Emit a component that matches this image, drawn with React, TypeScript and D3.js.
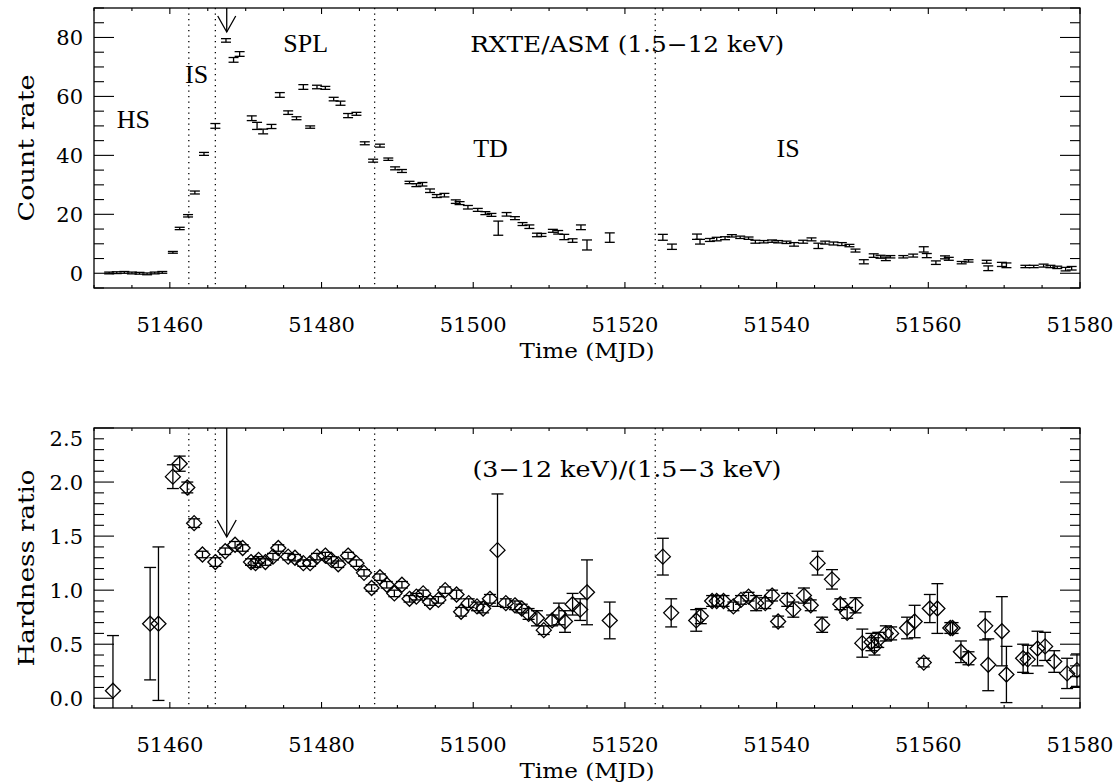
import React from 'react';
import * as d3 from 'd3';

// ---------- Data ----------
// RXTE/ASM count rate (1.5-12 keV)
const crTime = [
  51452.0, 51453.0, 51454.0, 51455.0, 51456.0, 51457.0, 51458.0, 51459.0,
  51460.4, 51461.3, 51462.4, 51463.3, 51464.5, 51466.0, 51467.4, 51468.4,
  51469.2, 51470.8, 51471.5, 51472.3, 51473.4, 51474.5, 51475.6, 51476.7,
  51477.6, 51478.5, 51479.4, 51480.5, 51481.6, 51482.5, 51483.5, 51484.6,
  51485.7, 51486.8, 51487.7, 51488.8, 51489.7, 51490.6, 51491.6, 51492.5,
  51493.3, 51494.3, 51495.2, 51496.2, 51497.7, 51498.2, 51499.3, 51500.6,
  51501.6, 51502.4, 51503.3, 51504.4, 51505.5, 51506.5, 51507.4, 51508.4,
  51509.0, 51510.5, 51511.2, 51512.0, 51513.1, 51514.2, 51515.0, 51518.0,
  51525.0, 51526.2, 51529.5, 51529.9, 51531.2, 51532.1, 51533.2, 51534.1,
  51535.2, 51536.3, 51537.2, 51538.3, 51539.4, 51540.2, 51541.3, 51542.3,
  51543.5, 51544.6, 51545.5, 51546.4, 51547.5, 51548.6, 51549.6, 51550.4,
  51551.5, 51552.8, 51553.7, 51554.4, 51555.0, 51556.7, 51558.0, 51559.4,
  51559.8, 51561.0, 51562.2, 51562.7, 51564.4, 51565.3, 51567.7, 51567.9,
  51569.7, 51570.3, 51572.8, 51573.9, 51575.2, 51576.1, 51577.0, 51578.1,
  51578.9,
];
const crRate = [
  0.1, 0.2, 0.3, 0.1, 0.0, -0.2, 0.1, 0.3,
  7.1, 15.2, 19.5, 27.4, 40.5, 50.0, 79.0, 72.4,
  74.4, 52.6, 50.0, 48.1, 49.8, 60.5, 54.5, 52.6,
  63.2, 49.6, 63.2, 62.9, 59.1, 57.7, 53.5, 54.1,
  44.1, 38.2, 43.3, 38.7, 35.6, 34.7, 30.8, 29.9,
  30.2, 28.0, 26.2, 26.5, 24.3, 23.8, 22.4, 21.5,
  20.4, 19.8, 15.3, 20.0, 18.7, 16.7, 15.8, 13.0,
  13.0, 14.4, 13.9, 12.3, 11.1, 15.6, 9.6, 12.1,
  12.2, 9.0, 12.4, 10.7, 11.3, 11.6, 11.9, 12.7,
  12.2, 11.9, 10.7, 10.7, 10.9, 10.7, 10.5, 9.8,
  10.7, 11.5, 9.3, 10.4, 10.1, 9.9, 9.4, 7.7,
  3.9, 6.0, 5.6, 4.9, 5.6, 5.6, 6.0, 8.1,
  6.0, 3.6, 5.4, 4.9, 3.6, 4.2, 3.9, 1.7,
  3.0, 2.7, 2.3, 2.3, 2.6, 2.3, 2.0, 1.4,
  1.7,
];
const crErr = [
  0.3, 0.3, 0.3, 0.3, 0.3, 0.3, 0.3, 0.3,
  0.3, 0.4, 0.4, 0.5, 0.5, 0.8, 0.6, 0.8,
  0.8, 0.8, 1.2, 0.8, 0.7, 0.8, 0.6, 0.5,
  0.8, 0.4, 0.6, 0.5, 0.6, 0.7, 0.7, 0.5,
  0.5, 0.5, 0.5, 0.4, 0.5, 0.5, 0.4, 0.5,
  0.6, 0.6, 0.5, 0.6, 0.6, 0.5, 0.6, 0.5,
  0.5, 0.5, 2.4, 0.6, 0.5, 0.5, 0.6, 0.6,
  0.5, 0.5, 0.6, 0.9, 0.6, 0.8, 1.7, 1.6,
  1.0, 0.9, 0.9, 0.8, 0.5, 0.6, 0.5, 0.4,
  0.4, 0.4, 0.5, 0.4, 0.4, 0.4, 0.4, 0.6,
  0.5, 0.5, 0.9, 0.5, 0.5, 0.5, 0.4, 0.5,
  0.7, 0.6, 0.5, 0.6, 0.4, 0.4, 0.5, 0.9,
  0.7, 0.6, 0.5, 0.5, 0.4, 0.4, 0.5, 0.8,
  0.7, 0.8, 0.4, 0.4, 0.5, 0.4, 0.4, 0.6,
  0.6,
];

// Hardness ratio (3-12 keV)/(1.5-3 keV)
const hrTime = [
  51452.5, 51457.4, 51458.5, 51460.4, 51461.3, 51462.3, 51463.2, 51464.3,
  51466.0, 51467.3, 51468.6, 51469.6, 51470.7, 51471.3, 51471.7, 51472.6,
  51473.6, 51474.3, 51475.6, 51476.5, 51477.6, 51478.5, 51479.4, 51480.5,
  51481.3, 51482.2, 51483.5, 51484.6, 51485.6, 51486.6, 51487.7, 51488.6,
  51489.6, 51490.6, 51491.6, 51492.5, 51493.4, 51494.3, 51495.4, 51496.3,
  51497.8, 51498.4, 51499.4, 51500.5, 51501.3, 51502.2, 51503.2, 51504.3,
  51505.5, 51506.4, 51507.3, 51508.4, 51509.3, 51510.4, 51511.3, 51512.1,
  51513.1, 51514.1, 51515.0, 51518.0, 51525.0, 51526.1, 51529.4, 51530.0,
  51531.5, 51532.1, 51533.0, 51534.3, 51535.3, 51536.3, 51537.3, 51538.5,
  51539.4, 51540.2, 51541.4, 51542.2, 51543.6, 51544.5, 51545.4, 51546.0,
  51547.3, 51548.4, 51549.3, 51550.4, 51551.3, 51552.5, 51552.9, 51553.4,
  51554.4, 51555.1, 51557.2, 51558.2, 51559.4, 51560.2, 51561.2, 51562.9,
  51563.2, 51564.3, 51565.3, 51567.5, 51567.9, 51569.7, 51570.3, 51572.5,
  51573.1, 51574.4, 51575.4, 51576.6, 51578.3, 51579.6,
];
const hrRatio = [
  0.07, 0.69, 0.69, 2.05, 2.17, 1.95, 1.62, 1.33,
  1.26, 1.36, 1.42, 1.39, 1.26, 1.25, 1.28, 1.26,
  1.31, 1.39, 1.31, 1.30, 1.25, 1.25, 1.31, 1.32,
  1.28, 1.24, 1.32, 1.25, 1.16, 1.02, 1.12, 1.05,
  0.97, 1.05, 0.92, 0.94, 0.97, 0.89, 0.91, 1.00,
  0.96, 0.80, 0.88, 0.85, 0.83, 0.92, 1.37, 0.88,
  0.86, 0.83, 0.78, 0.74, 0.63, 0.72, 0.78, 0.71,
  0.87, 0.82, 0.98, 0.72, 1.31, 0.79, 0.72, 0.76,
  0.90, 0.90, 0.90, 0.85, 0.91, 0.94, 0.88, 0.88,
  0.95, 0.71, 0.91, 0.82, 0.95, 0.86, 1.25, 0.68,
  1.10, 0.87, 0.79, 0.86, 0.51, 0.52, 0.48, 0.54,
  0.60, 0.60, 0.65, 0.71, 0.33, 0.83, 0.83, 0.65,
  0.65, 0.43, 0.37, 0.67, 0.31, 0.62, 0.22, 0.37,
  0.36, 0.46, 0.48, 0.34, 0.23, 0.26,
];
const hrErr = [
  0.51, 0.52, 0.71, 0.11, 0.07, 0.05, 0.04, 0.03,
  0.04, 0.03, 0.03, 0.03, 0.03, 0.04, 0.03, 0.03,
  0.03, 0.03, 0.03, 0.03, 0.03, 0.03, 0.03, 0.03,
  0.03, 0.03, 0.03, 0.03, 0.03, 0.03, 0.03, 0.03,
  0.03, 0.03, 0.03, 0.03, 0.03, 0.03, 0.03, 0.03,
  0.04, 0.04, 0.04, 0.04, 0.04, 0.04, 0.52, 0.04,
  0.04, 0.04, 0.05, 0.07, 0.04, 0.05, 0.10, 0.10,
  0.10, 0.10, 0.30, 0.17, 0.17, 0.13, 0.10, 0.07,
  0.05, 0.05, 0.05, 0.04, 0.04, 0.04, 0.07, 0.05,
  0.05, 0.05, 0.06, 0.07, 0.07, 0.05, 0.11, 0.07,
  0.09, 0.05, 0.05, 0.07, 0.13, 0.08, 0.08, 0.07,
  0.07, 0.06, 0.10, 0.15, 0.04, 0.13, 0.23, 0.05,
  0.05, 0.10, 0.06, 0.13, 0.24, 0.32, 0.26, 0.13,
  0.13, 0.16, 0.13, 0.10, 0.14, 0.15,
];

const stateBoundaries = [51462.5, 51466.0, 51487.0, 51524.0];
const arrowTime = 51467.5;
const xTicks = [51460, 51480, 51500, 51520, 51540, 51560, 51580];
const crTicks = [0, 20, 40, 60, 80];
const hrTicks = [0, 0.5, 1.0, 1.5, 2.0, 2.5];
const topLabels = ['HS', 'IS', 'SPL', 'TD', 'IS'];
const topTitle = 'RXTE/ASM (1.5\u221212 keV)';
const bottomTitle = '(3\u221212 keV)/(1.5\u22123 keV)';

// ---------- Layout ----------
const W = 1120;
const H = 782;
const L = 94;
const R = 1080;
const top1 = 8, bot1 = 288;
const top2 = 428, bot2 = 708;
const labelFont = '"DejaVu Serif", serif';
const annFont = '"Liberation Serif", "Times New Roman", serif';

const x = d3.scaleLinear().domain([51450, 51580]).range([L, R]);
const y1 = d3.scaleLinear().domain([-5, 90]).range([bot1, top1]);
const y2 = d3.scaleLinear().domain([-0.09, 2.5]).range([bot2, top2]);

const xMinor = d3.range(51450, 51581, 5);
const crMinor = d3.range(-5, 91, 5);
const hrMinor = d3.range(0, 2.51, 0.1);

function Frame({ y, top, bot, yTicks, yMinor, fmt }: any) {
  const stroke = '#000';
  return (
    <g>
      <rect x={L} y={top} width={R - L} height={bot - top} fill="none" stroke={stroke} strokeWidth={1.3} />
      {xMinor.map((t: number) => {
        const major = xTicks.includes(t);
        const len = major ? 6 : 3;
        return (
          <g key={'xt' + t}>
            <line x1={x(t)} x2={x(t)} y1={bot} y2={bot - len} stroke={stroke} strokeWidth={1.1} />
            <line x1={x(t)} x2={x(t)} y1={top} y2={top + len} stroke={stroke} strokeWidth={1.1} />
          </g>
        );
      })}
      {yMinor.map((v: number, i: number) => {
        const major = yTicks.some((m: number) => Math.abs(m - v) < 1e-6);
        const len = major ? 20 : 10;
        const py = y(v);
        if (py < top - 0.5 || py > bot + 0.5) return null;
        return (
          <g key={'yt' + i}>
            <line x1={L} x2={L + len} y1={py} y2={py} stroke={stroke} strokeWidth={1.1} />
            <line x1={R} x2={R - len} y1={py} y2={py} stroke={stroke} strokeWidth={1.1} />
          </g>
        );
      })}
      {yTicks.map((v: number) => (
        <text key={'yl' + v} x={83} y={Math.max(y(v), top + 10)} dy="0.36em" textAnchor="end"
          fontFamily={labelFont} fontSize={21} fill="#000">{fmt(v)}</text>
      ))}
      {xTicks.map((t: number) => (
        <text key={'xl' + t} x={x(t)} y={bot + 44} textAnchor="middle"
          fontFamily={labelFont} fontSize={21} fill="#000">{t}</text>
      ))}
      <text x={(L + R) / 2} y={bot + 70} textAnchor="middle" fontFamily={labelFont} fontSize={21}
        textLength={135} lengthAdjust="spacingAndGlyphs" fill="#000">Time (MJD)</text>
      {stateBoundaries.map((t: number) => (
        <line key={'sb' + t} x1={x(t)} x2={x(t)} y1={top} y2={bot} stroke="#000" strokeWidth={1.3} strokeDasharray="1.3 4.2" />
      ))}
    </g>
  );
}

export default function App() {
  const capTop = 5;
  const capBot = 6;
  const dm = 7.5;
  return (
    <svg width={W} height={H} viewBox={`0 0 ${W} ${H}`}
      style={{ position: 'absolute', left: 0, top: 0, background: '#fff' }}>
      <defs>
        <clipPath id="c1"><rect x={L} y={top1} width={R - L} height={bot1 - top1} /></clipPath>
        <clipPath id="c2"><rect x={L} y={top2} width={R - L} height={bot2 - top2} /></clipPath>
      </defs>
      <rect x={0} y={0} width={W} height={H} fill="#fff" />

      {/* Top panel */}
      <Frame y={y1} top={top1} bot={bot1} yTicks={crTicks} yMinor={crMinor} fmt={(v: number) => String(v)} />
      <g clipPath="url(#c1)" stroke="#000" strokeWidth={1.3} fill="none">
        {crTime.map((t, i) => {
          const px = x(t);
          const ya = y1(crRate[i] + crErr[i]);
          const yb = y1(crRate[i] - crErr[i]);
          return (
            <g key={'cr' + i}>
              <line x1={px} x2={px} y1={ya} y2={yb} />
              <line x1={px - capTop} x2={px + capTop} y1={ya} y2={ya} />
              <line x1={px - capTop} x2={px + capTop} y1={yb} y2={yb} />
            </g>
          );
        })}
      </g>
      <g stroke="#000" strokeWidth={1.3} fill="none">
        <line x1={x(arrowTime)} x2={x(arrowTime)} y1={top1} y2={top1 + 24} />
        <polyline points={`${x(arrowTime) - 9},${top1 + 8} ${x(arrowTime)},${top1 + 24} ${x(arrowTime) + 9},${top1 + 8}`} />
      </g>
      <g fontFamily={annFont} fontSize={26} fill="#000">
        <text x={x(51453.0)} y={y1(49.4)}>{topLabels[0]}</text>
        <text x={x(51462.0)} y={y1(64.5)}>{topLabels[1]}</text>
        <text x={x(51474.95)} y={y1(75.1)}>{topLabels[2]}</text>
        <text x={x(51500.0)} y={y1(39.4)}>{topLabels[3]}</text>
        <text x={x(51540.0)} y={y1(39.4)}>{topLabels[4]}</text>
      </g>
      <text x={x(51499.6)} y={y1(75.1)} fontFamily={labelFont} fontSize={22} fill="#000"
        textLength={314} lengthAdjust="spacingAndGlyphs">{topTitle}</text>
      <text transform={`translate(34,${(top1 + bot1) / 2}) rotate(-90)`} textAnchor="middle"
        fontFamily={labelFont} fontSize={22} fill="#000" textLength={147} lengthAdjust="spacingAndGlyphs">Count rate</text>

      {/* Bottom panel */}
      <Frame y={y2} top={top2} bot={bot2} yTicks={hrTicks} yMinor={hrMinor} fmt={(v: number) => v.toFixed(1)} />
      <g clipPath="url(#c2)" stroke="#000" strokeWidth={1.3} fill="none">
        {hrTime.map((t, i) => {
          const px = x(t);
          const ya = y2(hrRatio[i] + hrErr[i]);
          const yb = y2(hrRatio[i] - hrErr[i]);
          const py = y2(hrRatio[i]);
          return (
            <g key={'hr' + i}>
              <line x1={px} x2={px} y1={ya} y2={yb} />
              <line x1={px - capBot} x2={px + capBot} y1={ya} y2={ya} />
              <line x1={px - capBot} x2={px + capBot} y1={yb} y2={yb} />
              <polygon points={`${px},${py - dm} ${px + dm},${py} ${px},${py + dm} ${px - dm},${py}`} />
            </g>
          );
        })}
      </g>
      <g stroke="#000" strokeWidth={1.3} fill="none">
        <line x1={x(arrowTime)} x2={x(arrowTime)} y1={top2} y2={top2 + 109} />
        <polyline points={`${x(arrowTime) - 9.5},${top2 + 92} ${x(arrowTime)},${top2 + 109} ${x(arrowTime) + 9.5},${top2 + 92}`} />
      </g>
      <text x={x(51499.9)} y={y2(2.045)} fontFamily={labelFont} fontSize={22} fill="#000"
        textLength={309} lengthAdjust="spacingAndGlyphs">{bottomTitle}</text>
      <text transform={`translate(34,${(top2 + bot2) / 2}) rotate(-90)`} textAnchor="middle"
        fontFamily={labelFont} fontSize={22} fill="#000" textLength={197} lengthAdjust="spacingAndGlyphs">Hardness ratio</text>
    </svg>
  );
}
